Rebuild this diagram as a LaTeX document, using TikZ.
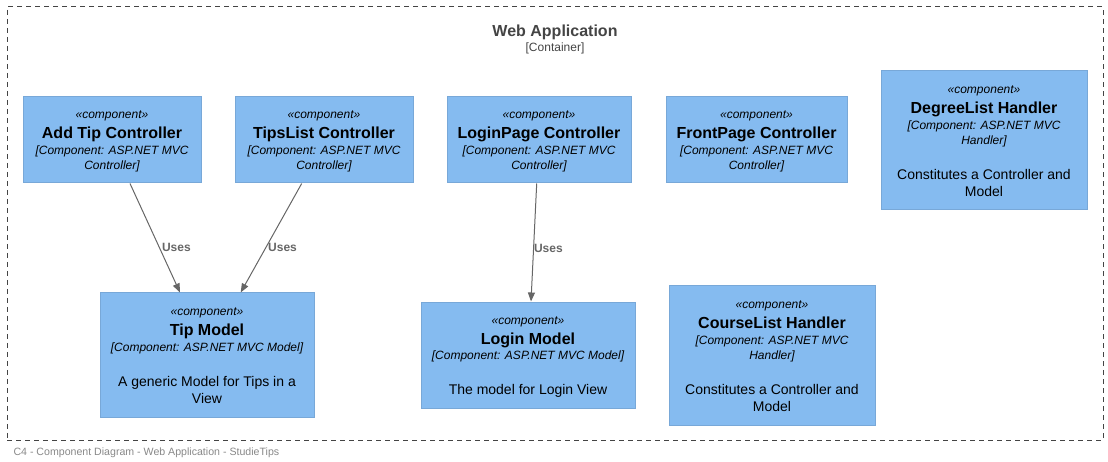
\documentclass[tikz,border=0pt]{standalone}
\usepackage{fontspec}
\setmainfont{Liberation Sans}
\usetikzlibrary{arrows.meta}

\definecolor{compfill}{HTML}{85BBF0}
\definecolor{compline}{HTML}{78A8D8}
\definecolor{bndline}{HTML}{444444}
\definecolor{relline}{HTML}{666666}
\definecolor{footgray}{HTML}{888888}

\newcommand{\stereo}{{\rule{0pt}{12pt}\itshape «component»}}
\newcommand{\ctitle}[1]{{\fontsize{16}{19}\selectfont\bfseries #1}}
\newcommand{\ctech}[1]{{\itshape #1}}
\newcommand{\cdesc}[1]{{\fontsize{14}{17}\selectfont #1}}
\newcommand{\cend}{\rule[-3.3pt]{0pt}{3.3pt}}

\begin{document}
\begin{tikzpicture}[x=1pt, y=-1pt,
    component/.style={draw=compline, fill=compfill, line width=1pt, align=center,
        inner sep=0pt, font=\fontsize{12}{15}\selectfont},
    boundary/.style={draw=bndline, dash pattern=on 5pt off 4pt, line width=1pt},
    uses/.style={draw=relline, line width=1pt, -{Triangle[length=9pt,width=7pt]}},
    useslabel/.style={text=relline, font=\fontsize{12}{15}\selectfont\bfseries,
        anchor=west, inner sep=2pt}]
    \useasboundingbox (0,0) rectangle (1108,462);

    % container boundary
    \node[boundary, minimum width=1096, minimum height=433] (webapp) at (555,223.5) {};
    \node[anchor=base, text=bndline, font=\fontsize{16}{19}\selectfont\bfseries] (webtitle) at (555,36.5) {Web Application};
    \node[anchor=base, text=bndline, font=\fontsize{12}{15}\selectfont] (webtype) at (555,51.5) {[Container]};

    % controllers
    \node[component, minimum width=178, minimum height=86] (addtip) at (112,140)
        {\stereo\\[5pt] \ctitle{Add Tip Controller}\\[0.7pt] \ctech{[Component: ASP.NET MVC}\\ \ctech{Controller]}\cend};
    \node[component, minimum width=178, minimum height=86] (tipslist) at (324,140)
        {\stereo\\[5pt] \ctitle{TipsList Controller}\\[0.7pt] \ctech{[Component: ASP.NET MVC}\\ \ctech{Controller]}\cend};
    \node[component, minimum width=184, minimum height=86] (loginpage) at (539,140)
        {\stereo\\[5pt] \ctitle{LoginPage Controller}\\[0.7pt] \ctech{[Component: ASP.NET MVC}\\ \ctech{Controller]}\cend};
    \node[component, minimum width=181, minimum height=86] (frontpage) at (756.5,140)
        {\stereo\\[5pt] \ctitle{FrontPage Controller}\\[0.7pt] \ctech{[Component: ASP.NET MVC}\\ \ctech{Controller]}\cend};
    \node[component, minimum width=206, minimum height=139] (degreelist) at (984,140.5)
        {\stereo\\[5pt] \ctitle{DegreeList Handler}\\[0.7pt] \ctech{[Component: ASP.NET MVC}\\ \ctech{Handler]}\\[20pt]
         \cdesc{Constitutes a Controller and}\\[1.7pt] \cdesc{Model}\cend};

    % models and handlers
    \node[component, minimum width=214, minimum height=124] (tipmodel) at (207,355)
        {\stereo\\[5pt] \ctitle{Tip Model}\\[0.7pt] \ctech{[Component: ASP.NET MVC Model]}\\[20pt]
         \cdesc{A generic Model for Tips in a}\\[1.7pt] \cdesc{View}\cend};
    \node[component, minimum width=214, minimum height=106] (loginmodel) at (528,355)
        {\stereo\\[5pt] \ctitle{Login Model}\\[0.7pt] \ctech{[Component: ASP.NET MVC Model]}\\[20pt]
         \cdesc{The model for Login View}\cend};
    \node[component, minimum width=206, minimum height=139] (courselist) at (772,355.5)
        {\stereo\\[5pt] \ctitle{CourseList Handler}\\[0.7pt] \ctech{[Component: ASP.NET MVC}\\ \ctech{Handler]}\\[20pt]
         \cdesc{Constitutes a Controller and}\\[1.7pt] \cdesc{Model}\cend};

    % relations
    \draw[uses] ([xshift=18pt]addtip.south) -- ([xshift=-27pt]tipmodel.north)
        node[useslabel, pos=0.59] {Uses};
    \draw[uses] ([xshift=-22.3pt]tipslist.south) -- ([xshift=33.7pt]tipmodel.north)
        node[useslabel, pos=0.59] {Uses};
    \draw[uses] ([xshift=-2.3pt]loginpage.south) -- ([xshift=3pt]loginmodel.north)
        node[useslabel, pos=0.55, inner sep=0pt] {Uses};

    \node[anchor=base west, text=footgray, font=\fontsize{10.6}{12}\selectfont] (footer) at (10,455)
        {C4 - Component Diagram - Web Application - StudieTips};
\end{tikzpicture}
\end{document}
